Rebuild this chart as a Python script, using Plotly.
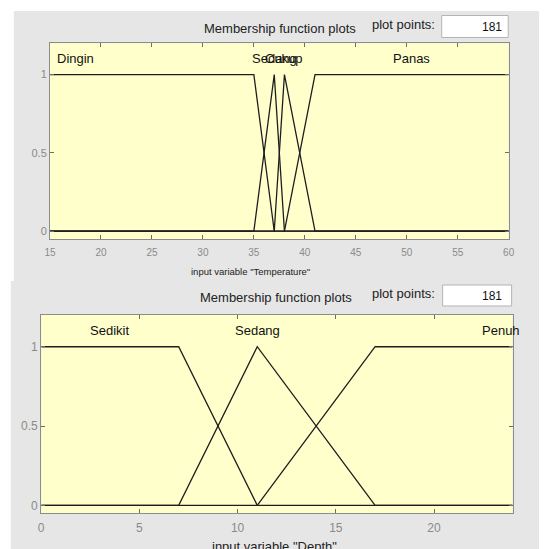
import plotly.graph_objects as go

W, H = 545, 549

# ---------------- data ----------------
temp_range = [15, 60]
temp_ticks = [15, 20, 25, 30, 35, 40, 45, 50, 55, 60]
temp_names = ["Dingin", "Sedang", "Cukup", "Panas"]
temp_x = [[15, 35, 37, 60], [15, 35, 37, 38, 60], [15, 37, 38, 41, 60], [15, 38, 41, 60]]
temp_y = [[1, 1, 0, 0], [0, 0, 1, 0, 0], [0, 0, 1, 0, 0], [0, 0, 1, 1]]
temp_label_x = [17.5, 37, 38, 50.5]

depth_range = [0, 24]
depth_ticks = [0, 5, 10, 15, 20]
depth_names = ["Sedikit", "Sedang", "Penuh"]
depth_x = [[0, 7, 11, 24], [0, 7, 11, 17, 24], [0, 11, 17, 24]]
depth_y = [[1, 1, 0, 0], [0, 0, 1, 0, 0], [0, 0, 1, 1]]
depth_label_x = [3.5, 11, 23.4]

y_range = [-0.05, 1.2]
y_ticks = [0, 0.5, 1]
y_ticktext = ["0", "0.5", "1"]
plot_points = 181
label_y = 1.1

# ---------------- helpers ----------------
def px(x):
    return x / W

def py(y):
    return 1 - y / H

FONT = "Liberation Sans, Arial, sans-serif"
GRAY_BG = "#e6e6e6"
YELLOW = "#ffffcc"
LINE = "#1e1e1e"

fig = go.Figure()

for xs, ys in zip(temp_x, temp_y):
    fig.add_trace(go.Scatter(x=xs, y=ys, mode="lines", xaxis="x", yaxis="y",
                             line=dict(color=LINE, width=1.3), hoverinfo="skip",
                             showlegend=False))
for xs, ys in zip(depth_x, depth_y):
    fig.add_trace(go.Scatter(x=xs, y=ys, mode="lines", xaxis="x2", yaxis="y2",
                             line=dict(color=LINE, width=1.3), hoverinfo="skip",
                             showlegend=False))

top_box = dict(x0=45, x1=514, y0=43.3, y1=239)
bot_box = dict(x0=36, x1=518, y0=315, y1=513.3)

shapes = [
    dict(type="rect", xref="paper", yref="paper", x0=px(8), x1=1, y0=py(281), y1=py(11),
         fillcolor=GRAY_BG, line=dict(width=0), layer="below"),
    dict(type="rect", xref="paper", yref="paper", x0=px(5), x1=1, y0=0, y1=py(281),
         fillcolor=GRAY_BG, line=dict(width=0), layer="below"),
    dict(type="rect", xref="paper", yref="paper", x0=px(top_box["x0"]), x1=px(top_box["x1"]),
         y0=py(top_box["y1"]), y1=py(top_box["y0"]), fillcolor=YELLOW, line=dict(width=0),
         layer="below"),
    dict(type="rect", xref="paper", yref="paper", x0=px(bot_box["x0"]), x1=px(bot_box["x1"]),
         y0=py(bot_box["y1"]), y1=py(bot_box["y0"]), fillcolor=YELLOW, line=dict(width=0),
         layer="below"),
    dict(type="rect", xref="paper", yref="paper", x0=px(445.5), x1=px(513.5), y0=py(37.5),
         y1=py(15.5), fillcolor="white", line=dict(color="#b4b4b4", width=1), layer="below"),
    dict(type="rect", xref="paper", yref="paper", x0=px(446.5), x1=px(517), y0=py(306),
         y1=py(285), fillcolor="white", line=dict(color="#b4b4b4", width=1), layer="below"),
]

annotations = []
for name, lx in zip(temp_names, temp_label_x):
    annotations.append(dict(x=lx, y=label_y, xref="x", yref="y", text=name, showarrow=False,
                            xanchor="center", yanchor="middle",
                            font=dict(family=FONT, size=13, color="#111111")))
for name, lx in zip(depth_names, depth_label_x):
    annotations.append(dict(x=lx, y=label_y, xref="x2", yref="y2", text=name, showarrow=False,
                            xanchor="center", yanchor="middle",
                            font=dict(family=FONT, size=13, color="#111111")))

def paper_text(text, x, y, size, color="#222222", xanchor="left"):
    annotations.append(dict(x=px(x), y=py(y), xref="paper", yref="paper", text=text,
                            showarrow=False, xanchor=xanchor, yanchor="middle",
                            font=dict(family=FONT, size=size, color=color)))

paper_text("Membership function plots", 200, 28.5, 13)
paper_text("plot points:", 372, 25, 13)
paper_text(str(plot_points), 509, 27, 12, color="#111111", xanchor="right")
paper_text("Membership function plots", 196, 297, 13)
paper_text("plot points:", 372, 293, 13)
paper_text(str(plot_points), 509, 296, 12, color="#111111", xanchor="right")
paper_text('input variable "Temperature"', 250, 271, 9.5, xanchor="center")
paper_text('input variable "Depth"', 274.5, 546, 13, xanchor="center")

axis_common = dict(showgrid=False, zeroline=False, showline=True, linecolor="#8c8c8c",
                   linewidth=1, mirror="ticks", ticks="inside", ticklen=4,
                   tickcolor="#6e6e6e", fixedrange=True)

fig.update_layout(
    width=W, height=H, margin=dict(l=0, r=0, t=0, b=0),
    paper_bgcolor="white", plot_bgcolor="rgba(0,0,0,0)",
    shapes=shapes, annotations=annotations, showlegend=False,
    xaxis=dict(domain=[px(top_box["x0"]), px(top_box["x1"])], range=temp_range,
               tickvals=temp_ticks, anchor="y", ticklabelstandoff=4,
               tickfont=dict(family=FONT, size=10, color="#8a8a8a"), **axis_common),
    yaxis=dict(domain=[py(top_box["y1"]), py(top_box["y0"])], range=y_range,
               tickvals=y_ticks, ticktext=y_ticktext, anchor="x",
               tickfont=dict(family=FONT, size=11, color="#8a8a8a"), **axis_common),
    xaxis2=dict(domain=[px(bot_box["x0"]), px(bot_box["x1"])], range=depth_range,
                tickvals=depth_ticks, anchor="y2", ticklabelstandoff=3,
                tickfont=dict(family=FONT, size=12, color="#8a8a8a"), **axis_common),
    yaxis2=dict(domain=[py(bot_box["y1"]), py(bot_box["y0"])], range=y_range,
                tickvals=y_ticks, ticktext=y_ticktext, anchor="x2",
                tickfont=dict(family=FONT, size=12, color="#8a8a8a"), **axis_common),
)

fig.write_html("out.html", config={"displayModeBar": False, "staticPlot": True},
               post_script="document.body.style.margin='0';document.body.style.overflow='hidden';")
